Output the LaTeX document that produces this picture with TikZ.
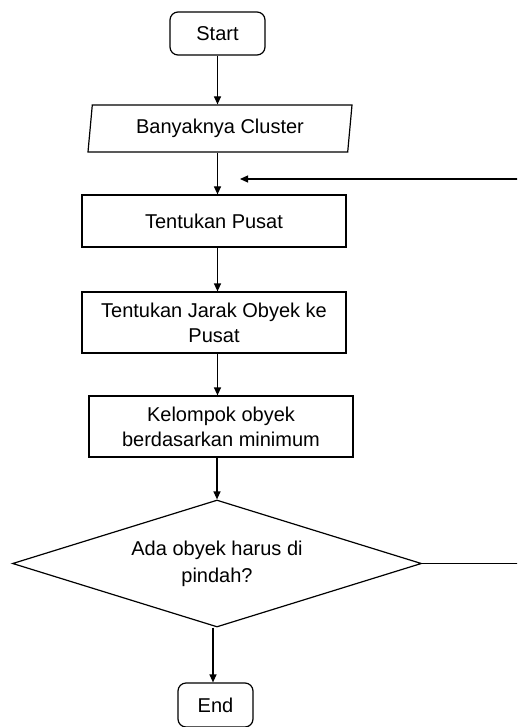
\documentclass[tikz,border=0pt]{standalone}
\usepackage{fontspec}
\setmainfont{Liberation Sans}
\usetikzlibrary{shapes.geometric, arrows.meta}

\begin{document}
\begin{tikzpicture}[x=1pt, y=-1pt, >={Triangle[length=8pt, width=7pt]}, line width=1.2pt,
    term/.style={draw, rounded corners=8pt, minimum width=95pt, minimum height=43pt, inner sep=0pt, font=\fontsize{20}{25}\selectfont},
    proc/.style={draw, rectangle, minimum width=264pt, inner sep=0pt, align=center, font=\fontsize{20}{25}\selectfont},
    io/.style={draw, trapezium, trapezium left angle=77, trapezium right angle=103, trapezium stretches body, minimum width=264pt, minimum height=47pt, inner sep=0pt, font=\fontsize{20}{25}\selectfont},
    decide/.style={draw, diamond, aspect=3.2, minimum width=409pt, minimum height=127pt, inner sep=0pt, align=center, font=\fontsize{20}{27}\selectfont}]
    \path[use as bounding box] (0,0) rectangle (517,727);
    \clip (0,0) rectangle (517,727);

    % Nodes of the flowchart
    \node[term] (start) at (217.5, 33.5) {Start};
    \node[io] (input) at (220, 128.5) {Banyaknya Cluster};
    \node[proc, minimum height=52pt] (pusat) at (214, 221) {Tentukan Pusat};
    \node[proc, minimum height=61pt] (jarak) at (214, 322.5) {Tentukan Jarak Obyek ke\\Pusat};
    \node[proc, minimum height=61pt] (kelompok) at (221, 426.5) {Kelompok obyek\\berdasarkan minimum};
    \node[decide] (decision) at (217, 563.5) {Ada obyek harus di\\pindah?};
    \node[term, minimum width=75pt, minimum height=44pt] (end) at (215.5, 705) {End};
    \coordinate (back) at (240, 179); % end of the loop arrow

    % Arrows
    \draw[->] (start) -- (start |- input.north);
    \draw[->] (input.south -| start) -- (pusat.north -| start);
    \draw[->] (pusat.south -| start) -- (jarak.north -| start);
    \draw[->] (jarak.south -| start) -- (kelompok.north -| start);
    \draw[->] (kelompok.south -| decision) -- (decision.north);
    \draw[->] (decision.south -| 213,0) -- (end.north -| 213,0);

    % Loop back to Tentukan Pusat
    \draw[->] (decision.east) -- ++(140, 0) |- (back);
\end{tikzpicture}
\end{document}
